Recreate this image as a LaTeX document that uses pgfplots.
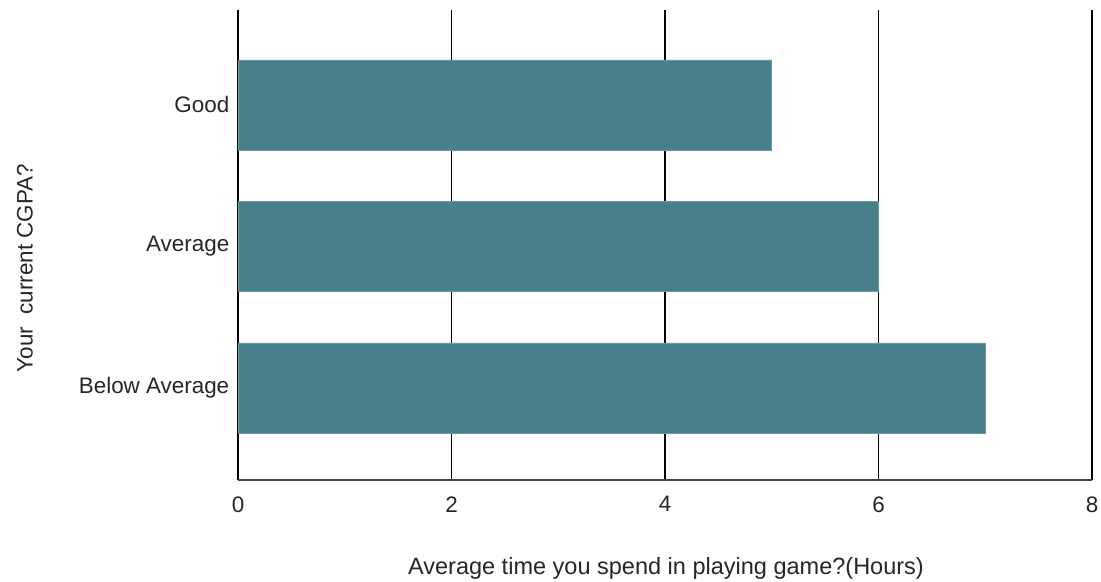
\documentclass[border=0pt]{standalone}
\usepackage{pgfplots}
\pgfplotsset{compat=1.18}
\usepackage{fontspec}
\setmainfont{Liberation Sans}
\definecolor{barteal}{HTML}{477F8A}
\definecolor{axisgray}{HTML}{444444}

\begin{document}
\begin{tikzpicture}[x=1bp,y=1bp]
\path[use as bounding box] (0,0) rectangle (1101,582);
\begin{axis}[
  at={(238bp,102bp)}, anchor=south west,
  scale only axis,
  width=854bp, height=470bp,
  xbar, bar width=90bp,
  xmin=0, xmax=8,
  ymin=-0.65, ymax=2.67,
  xtick={0,2,4,6,8},
  ytick={0,1,2},
  yticklabels={Below Average, Average, Good},
  xmajorgrids,
  major grid style={black, line width=1.4bp},
  axis x line*=bottom,
  axis y line*=left,
  axis line style={draw=none},
  tick style={draw=none},
  /pgf/number format/assume math mode=true,
  tick label style={font=\fontsize{22.5}{26}\selectfont, text=black!85},
  xticklabel style={yshift=-13bp},
  yticklabel style={xshift=-1bp},
  clip=false,
]
\addplot[fill=barteal, draw=barteal!80!white, line width=0.6bp] coordinates {
  (7,0) (6,1) (5,2)
};
\draw[axisgray, line width=2.2bp] (axis cs:0,-0.65) -- (axis cs:8,-0.65);
\end{axis}
\node[font=\fontsize{22.5}{26}\selectfont, text=black!85, rotate=90] at (25,314) {Your\ \ current CGPA?};
\node[font=\fontsize{23.6}{27}\selectfont, text=black!85] at (666,14) {Average time you spend in playing game?(Hours)};
\end{tikzpicture}
\end{document}
